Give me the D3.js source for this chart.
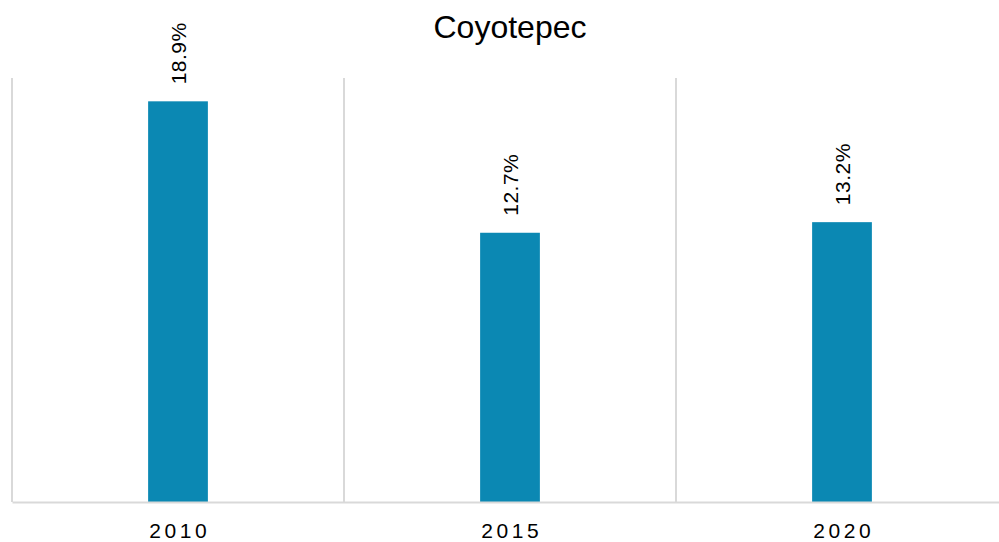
<!DOCTYPE html>
<html>
<head>
<meta charset="utf-8">
<script src="https://cdn.jsdelivr.net/npm/d3@7"></script>
<style>
  html, body { margin: 0; padding: 0; background: #fff; }
  svg { display: block; font-family: Arial, "Liberation Sans", sans-serif; }
</style>
</head>
<body>
<svg id="chart" width="999" height="542"></svg>
<script>
const title = "Coyotepec";
const categories = ["2010", "2015", "2020"];
const values = [18.9, 12.7, 13.2];
const valueLabels = ["18.9%", "12.7%", "13.2%"];
const yDomain = [0, 20];

const svg = d3.select("#chart");
const margin = { left: 12, right: -9, top: 78, bottom: 40 };
const W = 999, H = 542;
const plotW = W - margin.left - margin.right;
const plotBottom = 502;

const x = d3.scaleBand().domain(categories).range([margin.left, margin.left + plotW]).paddingInner(0).paddingOuter(0);
const y = d3.scaleLinear().domain(yDomain).range([plotBottom, margin.top]);
const barW = x.bandwidth() * 0.18;

// gridlines at category boundaries
const bounds = categories.map(c => x(c));
svg.append("g").selectAll("line").data(bounds).join("line")
  .attr("x1", d => d).attr("x2", d => d)
  .attr("y1", y(yDomain[1])).attr("y2", plotBottom)
  .attr("stroke", "#d9d9d9").attr("stroke-width", 2);

// bars
svg.append("g").selectAll("rect").data(values).join("rect")
  .attr("x", (d, i) => x(categories[i]) + x.bandwidth() / 2 - barW / 2)
  .attr("width", barW)
  .attr("y", d => y(d))
  .attr("height", d => plotBottom - y(d))
  .attr("fill", "#0b88b3");

// baseline axis
const xAxis = d3.axisBottom(x).tickSize(0).tickPadding(21);
const ax = svg.append("g").attr("transform", `translate(0,${plotBottom})`).call(xAxis);
ax.select(".domain").attr("stroke", "#d9d9d9").attr("stroke-width", 2);
ax.selectAll("text").attr("font-size", 21).attr("fill", "#000")
  .attr("font-family", "Arial, 'Liberation Sans', sans-serif")
  .attr("dx", "1.8px")
  .style("letter-spacing", "3.6px");

// value labels rotated
svg.append("g").selectAll("text").data(values).join("text")
  .attr("transform", (d, i) => `translate(${x(categories[i]) + x.bandwidth() / 2 + 7.5},${y(d) - 17}) rotate(-90)`)
  .attr("text-anchor", "start")
  .attr("font-size", 21)
  .style("letter-spacing", "0.5px")
  .attr("fill", "#000")
  .text((d, i) => valueLabels[i]);

// title
svg.append("text").attr("x", 510).attr("y", 38).attr("text-anchor", "middle")
  .attr("font-size", 32).attr("fill", "#000").text(title);
</script>
</body>
</html>
